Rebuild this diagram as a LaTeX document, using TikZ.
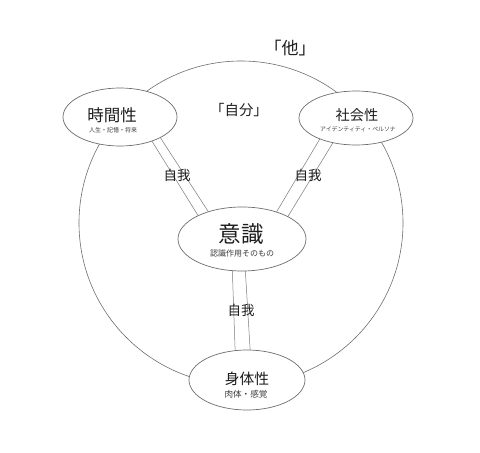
\documentclass[tikz,border=0pt]{standalone}
\usepackage{fontspec}
\setmainfont{Noto Sans CJK JP}
\usetikzlibrary{shapes.geometric}
\definecolor{ovalgray}{HTML}{6E6E6E}
\definecolor{linegray}{HTML}{7A7A7A}
\definecolor{textc}{HTML}{1E1E1E}
\definecolor{subc}{HTML}{3C3C3C}
\begin{document}
\begin{tikzpicture}[x=1pt,y=-1pt,
  bigring/.style={circle, draw=ovalgray, line width=0.6pt, inner sep=0pt, outer sep=0pt, minimum size=324pt},
  oval/.style={ellipse, draw=ovalgray, line width=0.7pt, fill=white, inner sep=0pt, outer sep=0pt},
  link/.style={draw=linegray, line width=0.5pt},
  ttl/.style={inner sep=0pt, text=textc},
  subttl/.style={inner sep=0pt, text=subc},
  egolabel/.style={inner sep=0pt, text=textc, font=\fontsize{13.5pt}{15pt}\selectfont}]
\useasboundingbox (0,0) rectangle (480,453);
\fill[white] (0,0) rectangle (480,453);

% outer ring
\node[bigring] (jibun) at (241,223) {};

% ellipses
\node[oval, minimum width=114pt, minimum height=58pt] (jikan) at (120,117) {};
\node[oval, minimum width=114pt, minimum height=54pt] (shakai) at (356,118) {};
\node[oval, minimum width=128pt, minimum height=64pt] (ishiki) at (242,239) {};
\node[oval, minimum width=116pt, minimum height=60pt] (shintai) at (247,380) {};

% connectors (double strands)
\draw[link] (jikan.-37.7) -- (ishiki.152.9);
\draw[link] (jikan.-27.1) -- (ishiki.141.1);
\draw[link] (shakai.210.1) -- (ishiki.38.9);
\draw[link] (shakai.227.4) -- (ishiki.26.6);
\draw[link] (ishiki.253.1) -- (shintai.112.9);
\draw[link] (ishiki.-84.6) -- (shintai.84.3);

% titles and subtitles
\node[ttl, font=\fontsize{16.5pt}{18pt}\selectfont] (jikanT) at (112,115) {時間性};
\node[subttl, font=\fontsize{6pt}{7pt}\selectfont] (jikanS) at (113,130) {人生・記憶・将来};
\node[ttl, font=\fontsize{14.2pt}{16pt}\selectfont] (shakaiT) at (357,115) {社会性};
\node[subttl, font=\fontsize{5.9pt}{7pt}\selectfont] (shakaiS) at (358,129.5) {アイデンティティ・ペルソナ};
\node[ttl, font=\fontsize{22.5pt}{24pt}\selectfont] (ishikiT) at (241,234) {意識};
\node[subttl, font=\fontsize{8pt}{9pt}\selectfont] (ishikiS) at (242,253) {認識作用そのもの};
\node[ttl, font=\fontsize{14.8pt}{16pt}\selectfont] (shintaiT) at (247,379) {身体性};
\node[subttl, font=\fontsize{8.6pt}{10pt}\selectfont] (shintaiS) at (246,394) {肉体・感覚};

% ring labels
\node[ttl, font=\fontsize{17pt}{19pt}\selectfont] (ta) at (290,48) {「他」};
\node[ttl, font=\fontsize{14.4pt}{16pt}\selectfont] (jibunL) at (239,110) {「自分」};

% ego labels
\node[egolabel] (egoL) at (177,175) {自我};
\node[egolabel] (egoR) at (308,175) {自我};
\node[egolabel] (egoB) at (241,310) {自我};
\end{tikzpicture}
\end{document}
